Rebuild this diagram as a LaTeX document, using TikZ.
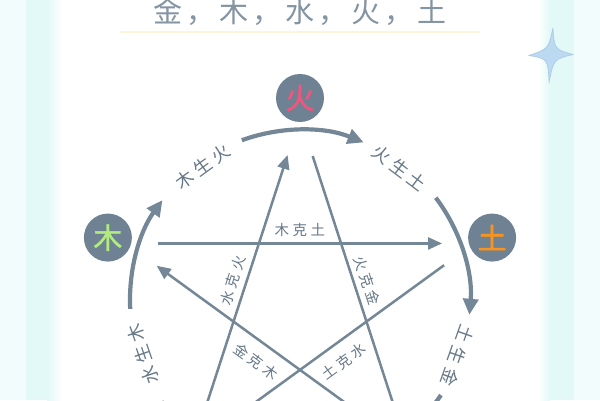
\documentclass[tikz,border=0pt]{standalone}
\usepackage{fontspec}
\newfontfamily\cjk{Noto Sans CJK SC}
\newfontfamily\cjkb[FakeBold=1.4]{Noto Sans CJK SC}
\usetikzlibrary{arrows.meta}
\definecolor{linec}{HTML}{748797}
\definecolor{textc}{HTML}{677888}
\definecolor{titlec}{HTML}{8494A2}
\definecolor{discc}{HTML}{6E8293}
\definecolor{huoc}{HTML}{F2557D}
\definecolor{muc}{HTML}{B2EC7E}
\definecolor{tuc}{HTML}{F7931E}
\definecolor{bandc}{HTML}{E2F9F7}
\definecolor{bandl}{HTML}{F2FCFC}
\definecolor{sparkc}{HTML}{BCD9F2}
\definecolor{sparkd}{HTML}{A9C8E6}
\definecolor{ulc}{HTML}{FBF5DA}
\begin{document}
\begin{tikzpicture}[x=1pt,y=1pt,
  element/.style={circle, fill=discc, minimum size=48pt, inner sep=0pt, font=\cjkb\fontsize{29}{29}\selectfont},
  shenglbl/.style={text=textc, inner sep=0pt, font=\cjk\fontsize{18}{18}\selectfont},
  kelbl/.style={text=textc, inner sep=0pt, font=\cjk\fontsize{14.5}{14.5}\selectfont},
  sheng/.style={draw=linec, line width=4.2pt, -{Triangle[length=16pt,width=15pt]}},
  ke/.style={draw=linec, line width=2.5pt, -{Triangle[length=14pt,width=12pt]}},
]
\useasboundingbox (-300,-100) rectangle (300,300);
\clip (-300,-100) rectangle (300,300);
\fill[white] (-300,-100) rectangle (300,300);
% side bands
\fill[bandl] (-300,-100) rectangle (-274,300);
\fill[bandc] (-274,-100) rectangle (-253,300);
\shade[left color=bandc, right color=white] (-253,-100) rectangle (-238,300);
\shade[left color=white, right color=bandc] (238,-100) rectangle (250,300);
\fill[bandc] (250,-100) rectangle (274,300);
\fill[bandl] (274,-100) rectangle (300,300);
% sparkle
\begin{scope}[shift={(251,245)}, rotate=-4]
  \filldraw[fill=sparkc, draw=sparkd, line width=0.6pt]
    (0,27) .. controls (3,6) .. (22,2) .. controls (3,-4) .. (0,-27)
    .. controls (-3,-4) .. (-22,-2) .. controls (-3,6) .. (0,27);
\end{scope}
% title
\node[font=\cjk\fontsize{29}{29}\selectfont, text=titlec, anchor=base, inner sep=0pt] (title) at (0,277)
  {金\hspace{4pt}，\hspace{4pt}木\hspace{4pt}，\hspace{4pt}水\hspace{4pt}，\hspace{4pt}火\hspace{4pt}，\hspace{4pt}土};
\draw[ulc, line width=2pt] (-180,268) -- (180,268);
% elements
\node[element, text=huoc] (huo) at (90:202) {火};
\node[element, text=muc] (mu) at (162:202) {木};
\node[element, text=tuc] (tu) at (18:202) {土};
% pentagram vertices
\coordinate (pH) at (90:183);
\coordinate (pM) at (162:183);
\coordinate (pT) at (18:183);
\coordinate (pS) at (234:183);
\coordinate (pJ) at (306:183);
% ke lines
\draw[ke, shorten <=32pt, shorten >=32pt] (pM) -- (pT);
\draw[ke, shorten <=38pt, shorten >=40pt] (pS) -- (pH);
\draw[ke, shorten <=41pt, shorten >=8pt] (pH) -- (pJ);
\draw[ke, shorten <=38pt, shorten >=38pt] (pJ) -- (pM);
\draw[ke, shorten <=37pt, shorten >=8pt] (pT) -- (pS);
% sheng arcs
\coordinate (aM) at (183:170);
\coordinate (aH) at (110:170);
\coordinate (aT) at (37:170);
\coordinate (aS) at (254:170);
\coordinate (aJ) at (326:170);
\draw[sheng] (aM) arc[start angle=183, end angle=144, radius=170];
\draw[sheng] (aH) arc[start angle=110, end angle=68, radius=170];
\draw[sheng] (aT) arc[start angle=37, end angle=-5, radius=170];
\draw[sheng] (aS) arc[start angle=254, end angle=216, radius=170];
\draw[sheng] (aJ) arc[start angle=326, end angle=288, radius=170];
% sheng labels
\node[shenglbl, rotate=36] (l1) at (126:165) {木\hspace{4.5pt}生\hspace{4.5pt}火};
\node[shenglbl, rotate=-37] (l2) at (53:165) {火\hspace{4.5pt}生\hspace{4.5pt}土};
\node[shenglbl, rotate=-109.5] (l3) at (-19.5:167) {土\hspace{4.5pt}生\hspace{4.5pt}金};
\node[shenglbl, rotate=109] (l4) at (199:166) {水\hspace{4.5pt}生\hspace{4.5pt}木};
% ke labels
\node[kelbl] (k1) at (0,70) {木\hspace{3.5pt}克\hspace{3.5pt}土};
\node[kelbl, rotate=72] (k2) at (-67,19.5) {水\hspace{3.5pt}克\hspace{3.5pt}火};
\node[kelbl, rotate=-72] (k3) at (67,19.5) {火\hspace{3.5pt}克\hspace{3.5pt}金};
\node[kelbl, rotate=-36] (k4) at (-44,-61.5) {金\hspace{3.5pt}克\hspace{3.5pt}木};
\node[kelbl, rotate=36] (k5) at (44,-61.5) {土\hspace{3.5pt}克\hspace{3.5pt}水};
\end{tikzpicture}
\end{document}
